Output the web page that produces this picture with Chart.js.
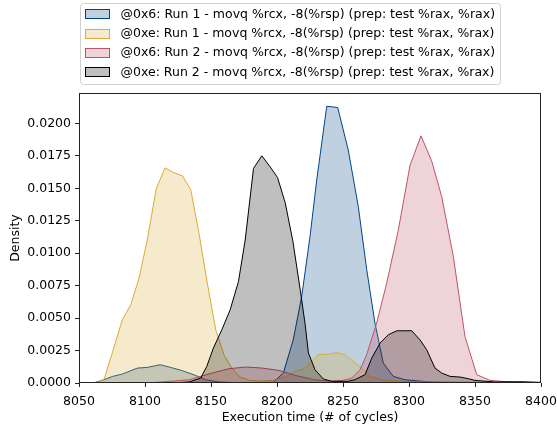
<!DOCTYPE html>
<html>
<head>
<meta charset="utf-8">
<script src="https://cdn.jsdelivr.net/npm/chart.js@4.4.0/dist/chart.umd.min.js"></script>
<style>
  html, body { margin: 0; padding: 0; background: #fff; }
</style>
</head>
<body>
<canvas id="canvas" width="557" height="427"></canvas>
<script>
// values (x = cycles, y = density)
var run1x6Cycles = [8058, 8062.7, 8068.9, 8075.2, 8082.8, 8087.9, 8094.2, 8101.7, 8111.4, 8119.5, 8128.3, 8138.4, 8146, 8156.1, 8172, 8197.2, 8204.8, 8212.3, 8218.7, 8225, 8230.1, 8237.7, 8246, 8254, 8261.6, 8268, 8274.2, 8280.5, 8288.1, 8297, 8320, 8360, 8400]
var run1x6Density = [0, 0.00005, 0.00025, 0.0005, 0.00069, 0.00089, 0.00115, 0.0012, 0.00141, 0.0012, 0.00095, 0.00058, 0.00025, 0.00008, 0.00002, 0.00005, 0.00077, 0.00333, 0.00666, 0.01128, 0.01564, 0.02133, 0.02123, 0.01795, 0.01359, 0.00872, 0.00462, 0.00154, 0.00051, 0.00025, 0.00005, 0.00002, 0.00001]

var run1xeCycles = [8056, 8063.6, 8068.9, 8075.2, 8082.8, 8089.2, 8095.5, 8101.7, 8108.6, 8115.2, 8122, 8128.3, 8134.6, 8140.9, 8147.2, 8153.6, 8159.8, 8165.7, 8172, 8179.5, 8188, 8197, 8207.4, 8214, 8221.2, 8226.3, 8231.3, 8238.9, 8245.3, 8251.5, 8257.8, 8264.2, 8270.5, 8279.3, 8300, 8400]
var run1xeDensity = [0, 0.00005, 0.00025, 0.00231, 0.00487, 0.00602, 0.00808, 0.01102, 0.0150, 0.01658, 0.0162, 0.01597, 0.01492, 0.01154, 0.00769, 0.0041, 0.00218, 0.00115, 0.00046, 0.0002, 0.00015, 0.0002, 0.00051, 0.0009, 0.00115, 0.00166, 0.00218, 0.00223, 0.00235, 0.00218, 0.00166, 0.00115, 0.00051, 0.00025, 0.0001, 0.00002]

var run2x6Cycles = [8100, 8112.9, 8133.3, 8151, 8163.6, 8176.3, 8188.9, 8201.5, 8214.2, 8228, 8240.2, 8250, 8256.6, 8262.9, 8268, 8275.5, 8283.1, 8291.9, 8300.8, 8309.1, 8317.2, 8324.8, 8333.6, 8342.4, 8351.3, 8361.4, 8380, 8400]
var run2x6Density = [0, 0.00008, 0.00025, 0.00077, 0.0011, 0.00123, 0.00115, 0.00097, 0.00058, 0.00025, 0.00015, 0.0002, 0.00038, 0.00102, 0.0022, 0.00462, 0.00769, 0.01179, 0.01679, 0.01905, 0.0171, 0.01436, 0.00974, 0.00359, 0.00064, 0.0002, 0.00005, 0.00002]

var run2xeCycles = [8120, 8133.3, 8142.2, 8146.8, 8151.8, 8158.2, 8164.5, 8170.8, 8175.9, 8182.2, 8188.5, 8194.8, 8200.4, 8206.2, 8212, 8217.6, 8221.2, 8223.8, 8228.8, 8235.1, 8241.4, 8253.8, 8259.1, 8266.7, 8271.8, 8278.1, 8284.4, 8290.7, 8302, 8308.3, 8313.4, 8319.7, 8324.8, 8331.1, 8338.6, 8345, 8350, 8365, 8385, 8400]
var run2xeDensity = [0, 0.00008, 0.00038, 0.00128, 0.00269, 0.0041, 0.00564, 0.00782, 0.01102, 0.01654, 0.01751, 0.01666, 0.01584, 0.0139, 0.01095, 0.00718, 0.00461, 0.00231, 0.00102, 0.00031, 0.00013, 0.00013, 0.00026, 0.00064, 0.00192, 0.00308, 0.00372, 0.00402, 0.00403, 0.00333, 0.00256, 0.00115, 0.00077, 0.00051, 0.00046, 0.00033, 0.0002, 0.00008, 0.0001, 0.00005]

var seriesLabels = [
  '@0x6: Run 1 - movq %rcx, -8(%rsp) (prep: test %rax, %rax)',
  '@0xe: Run 1 - movq %rcx, -8(%rsp) (prep: test %rax, %rax)',
  '@0x6: Run 2 - movq %rcx, -8(%rsp) (prep: test %rax, %rax)',
  '@0xe: Run 2 - movq %rcx, -8(%rsp) (prep: test %rax, %rax)'
]
var xTicks = [8050, 8100, 8150, 8200, 8250, 8300, 8350, 8400]
var yTicks = [0, 0.0025, 0.005, 0.0075, 0.01, 0.0125, 0.015, 0.0175, 0.02]

var FONT = 'DejaVu Sans'
var FONT_SIZE = 12.5

// turn two arrays into {x, y} points for the line chart
function points(xs, ys) {
  var pts = []
  for (var i = 0; i < xs.length; i++) {
    pts.push({ x: xs[i], y: ys[i] })
  }
  return pts
}

function makeDataset(label, xs, ys, line, fill, order) {
  return {
    label: label,
    data: points(xs, ys),
    borderColor: line,
    backgroundColor: fill,
    borderWidth: 1,
    fill: 'origin',
    tension: 0,
    pointRadius: 0,
    order: order
  }
}

// order: lower number is drawn later (on top), same as the matplotlib stacking
var datasets = [
  makeDataset(seriesLabels[0], run1x6Cycles, run1x6Density, '#004488', 'rgba(0,68,136,0.25)', 3),
  makeDataset(seriesLabels[1], run1xeCycles, run1xeDensity, '#DDAA33', 'rgba(221,170,51,0.25)', 2),
  makeDataset(seriesLabels[2], run2x6Cycles, run2x6Density, '#BB5566', 'rgba(187,85,102,0.25)', 1),
  makeDataset(seriesLabels[3], run2xeCycles, run2xeDensity, '#000000', 'rgba(0,0,0,0.25)', 0)
]

// box around the plot, like matplotlib spines
var framePlugin = {
  id: 'frame',
  afterDatasetsDraw: function (chart) {
    var a = chart.chartArea
    var ctx = chart.ctx
    ctx.save()
    ctx.strokeStyle = '#222'
    ctx.lineWidth = 1
    ctx.strokeRect(Math.round(a.left) + 0.5, Math.round(a.top) + 0.5,
      Math.round(a.right - a.left) - 1, Math.round(a.bottom - a.top) - 1)
    ctx.restore()
  }
}

// matplotlib style legend box with patches
var legendPlugin = {
  id: 'boxLegend',
  afterDraw: function (chart) {
    var ctx = chart.ctx
    var x0 = 80.5, y0 = 3.5, w = 420, h = 81, r = 3
    ctx.save()
    ctx.beginPath()
    ctx.moveTo(x0 + r, y0)
    ctx.arcTo(x0 + w, y0, x0 + w, y0 + h, r)
    ctx.arcTo(x0 + w, y0 + h, x0, y0 + h, r)
    ctx.arcTo(x0, y0 + h, x0, y0, r)
    ctx.arcTo(x0, y0, x0 + w, y0, r)
    ctx.closePath()
    ctx.fillStyle = 'rgba(255,255,255,0.8)'
    ctx.fill()
    ctx.strokeStyle = '#d0d0d0'
    ctx.lineWidth = 1
    ctx.stroke()

    chart.data.datasets.forEach(function (ds, i) {
      var cy = 14.3 + i * 19.33
      ctx.fillStyle = ds.backgroundColor
      ctx.fillRect(85, Math.round(cy - 5), 25, 10)
      ctx.strokeStyle = ds.borderColor
      ctx.strokeRect(85.5, Math.round(cy - 5) + 0.5, 24, 9)
      ctx.fillStyle = '#000'
      ctx.font = FONT_SIZE + 'px "' + FONT + '"'
      ctx.textBaseline = 'middle'
      ctx.textAlign = 'left'
      ctx.fillText(ds.label, 120.5, cy)
    })
    ctx.restore()
  }
}

var canvas = document.getElementById('canvas').getContext('2d')

var config = {
  type: 'line',
  data: { datasets: datasets },
  options: {
    responsive: false,
    animation: false,
    events: [],
    layout: { padding: { left: 0, right: 16, top: 93, bottom: 0 } },
    plugins: {
      legend: { display: false },
      tooltip: { enabled: false }
    },
    scales: {
      x: {
        type: 'linear',
        min: 8050,
        max: 8400,
        afterFit: function (scale) {
          scale.height = 44
          // keep the plot edge fixed, the last label may hang over
          scale.paddingLeft = 0
          scale.paddingRight = 0
        },
        afterBuildTicks: function (scale) {
          scale.ticks = xTicks.map(function (v) { return { value: v } })
        },
        border: { display: false },
        grid: { drawOnChartArea: false, drawTicks: true, tickLength: 4, color: '#222', lineWidth: 1 },
        ticks: {
          color: '#000',
          padding: 7,
          maxRotation: 0,
          font: { family: FONT, size: FONT_SIZE },
          callback: function (v) { return String(v) }
        },
        title: {
          display: true,
          text: 'Execution time (# of cycles)',
          color: '#000',
          font: { family: FONT, size: FONT_SIZE },
          padding: { top: 0, bottom: 2 }
        }
      },
      y: {
        min: 0,
        max: 0.02235,
        afterFit: function (scale) { scale.width = 79 },
        afterBuildTicks: function (scale) {
          scale.ticks = yTicks.map(function (v) { return { value: v } })
        },
        border: { display: false },
        grid: { drawOnChartArea: false, drawTicks: true, tickLength: 4, color: '#222', lineWidth: 1 },
        ticks: {
          color: '#000',
          padding: 4,
          font: { family: FONT, size: FONT_SIZE },
          callback: function (v) { return v.toFixed(4) }
        },
        title: {
          display: true,
          text: 'Density',
          color: '#000',
          font: { family: FONT, size: FONT_SIZE },
          padding: { top: 8, bottom: 0 }
        }
      }
    }
  },
  plugins: [framePlugin, legendPlugin]
}

var myChart = new Chart(canvas, config)
</script>
</body>
</html>
